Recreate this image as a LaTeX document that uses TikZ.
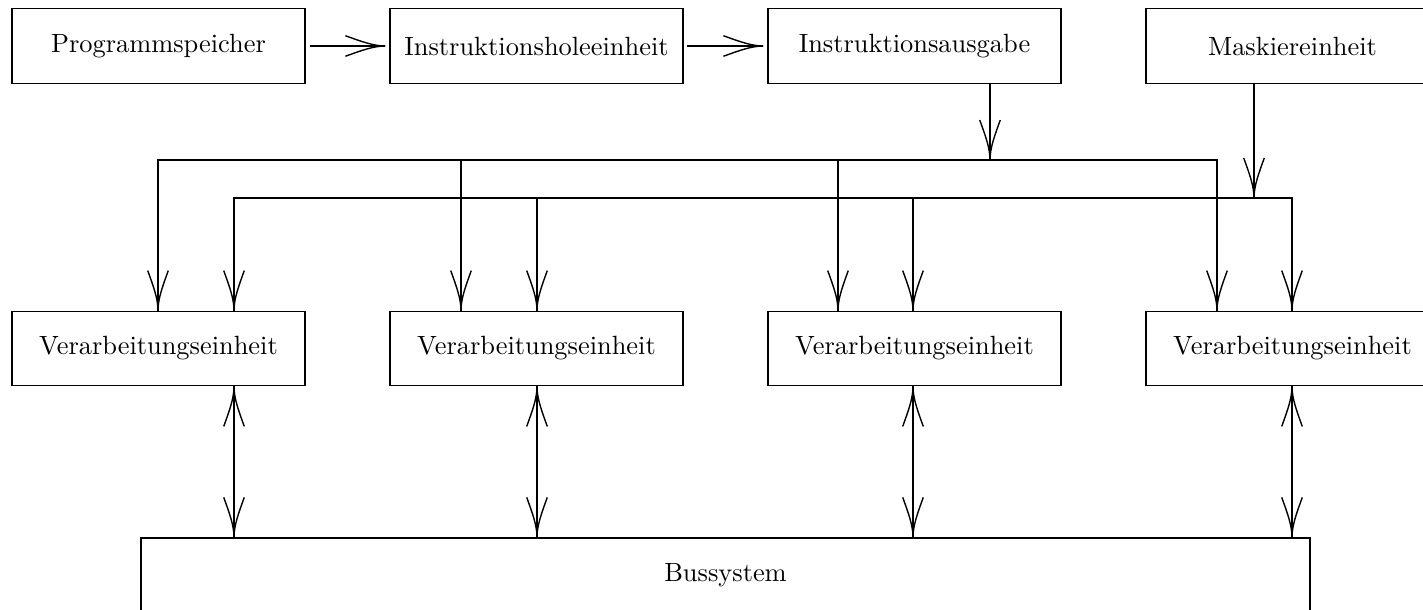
\documentclass[tikz,border=0pt]{standalone}
\usetikzlibrary{arrows.meta}

% long open barb with curved flanks, as in picture-mode arrows
\pgfdeclarearrow{
  name = Barb,
  parameters = {\the\pgfarrowlength,\the\pgfarrowwidth},
  setup code = {
    \pgfarrowssettipend{0pt}
    \pgfarrowssetlineend{0pt}
    \pgfarrowssetbackend{-\pgfarrowlength}
    \pgfarrowsupperhullpoint{-\pgfarrowlength}{0.5\pgfarrowwidth}
    \pgfarrowsupperhullpoint{0pt}{0pt}
    \pgfarrowssavethe\pgfarrowlength
    \pgfarrowssavethe\pgfarrowwidth
  },
  drawing code = {
    \pgfsetdash{}{0pt}
    \pgfpathmoveto{\pgfpoint{-\pgfarrowlength}{0.5\pgfarrowwidth}}
    \pgfpathcurveto{\pgfpoint{-0.6\pgfarrowlength}{0.22\pgfarrowwidth}}
                   {\pgfpoint{-0.3\pgfarrowlength}{0pt}}
                   {\pgfpointorigin}
    \pgfpathcurveto{\pgfpoint{-0.3\pgfarrowlength}{0pt}}
                   {\pgfpoint{-0.6\pgfarrowlength}{-0.22\pgfarrowwidth}}
                   {\pgfpoint{-\pgfarrowlength}{-0.5\pgfarrowwidth}}
    \pgfusepathqstroke
  },
  defaults = {length=14.4pt, width=7.4pt}
}

\tikzset{
  unit/.style={draw, line width=0.5pt, inner sep=0pt,
    font=\fontsize{9.5}{11}\selectfont,
    minimum width=105.5pt, minimum height=26.8pt},
  link/.style={line width=0.5pt},
  >={Barb}
}

\begin{document}
\begin{tikzpicture}[x=0.36pt, y=-0.36pt]
  \useasboundingbox (0,0) rectangle (1423,610);

  % control units
  \node[unit] (prog)  at (158.5,46) {Programmspeicher};
  \node[unit] (fetch) at (536.5,46) {Instruktionsholeeinheit};
  \node[unit] (issue) at (914.5,46) {Instruktionsausgabe};
  \node[unit] (mask)  at (1292.5,46) {Maskiereinheit};

  % processing elements
  \node[unit] (pe1) at (158.5,348.5) {Verarbeitungseinheit};
  \node[unit] (pe2) at (536.5,348.5) {Verarbeitungseinheit};
  \node[unit] (pe3) at (914.5,348.5) {Verarbeitungseinheit};
  \node[unit] (pe4) at (1292.5,348.5) {Verarbeitungseinheit};

  % bus
  \node[draw, line width=0.5pt, inner sep=0pt, minimum width=420.8pt,
        minimum height=26.6pt, font=\fontsize{9.5}{11}\selectfont]
        (bus) at (725.5,575) {Bussystem};

  % instruction fetch chain
  \draw[link, ->, shorten <=1.4pt, shorten >=1.4pt] (prog) -- (fetch);
  \draw[link, ->, shorten <=1.2pt, shorten >=1.4pt] (fetch) -- (issue);

  % instruction distribution line
  \coordinate (ij) at (990,160);
  \coordinate (i1) at (158,160);
  \coordinate (i2) at (461,160);
  \coordinate (i3) at (838,160);
  \coordinate (i4) at (1217,160);
  \draw[link, ->] (issue.south -| ij) -- (ij);
  \draw[link, <->] (pe1.north -| i1) -- (i1) -- (i4) -- (pe4.north -| i4);
  \draw[link, ->] (i2) -- (pe2.north -| i2);
  \draw[link, ->] (i3) -- (pe3.north -| i3);

  % mask distribution line
  \coordinate (mj) at (1254,198);
  \coordinate (m1) at (234,198);
  \coordinate (m2) at (537,198);
  \coordinate (m3) at (913,198);
  \coordinate (m4) at (1292,198);
  \draw[link, ->] (mask.south -| mj) -- (mj);
  \draw[link, <->] (pe1.north -| m1) -- (m1) -- (m4) -- (pe4.north -| m4);
  \draw[link, ->] (m2) -- (pe2.north -| m2);
  \draw[link, ->] (m3) -- (pe3.north -| m3);

  % bus connections
  \draw[link, <->] (pe1.south -| m1) -- (bus.north -| m1);
  \draw[link, <->] (pe2.south -| m2) -- (bus.north -| m2);
  \draw[link, <->] (pe3.south -| m3) -- (bus.north -| m3);
  \draw[link, <->] (pe4.south -| m4) -- (bus.north -| m4);
\end{tikzpicture}
\end{document}
